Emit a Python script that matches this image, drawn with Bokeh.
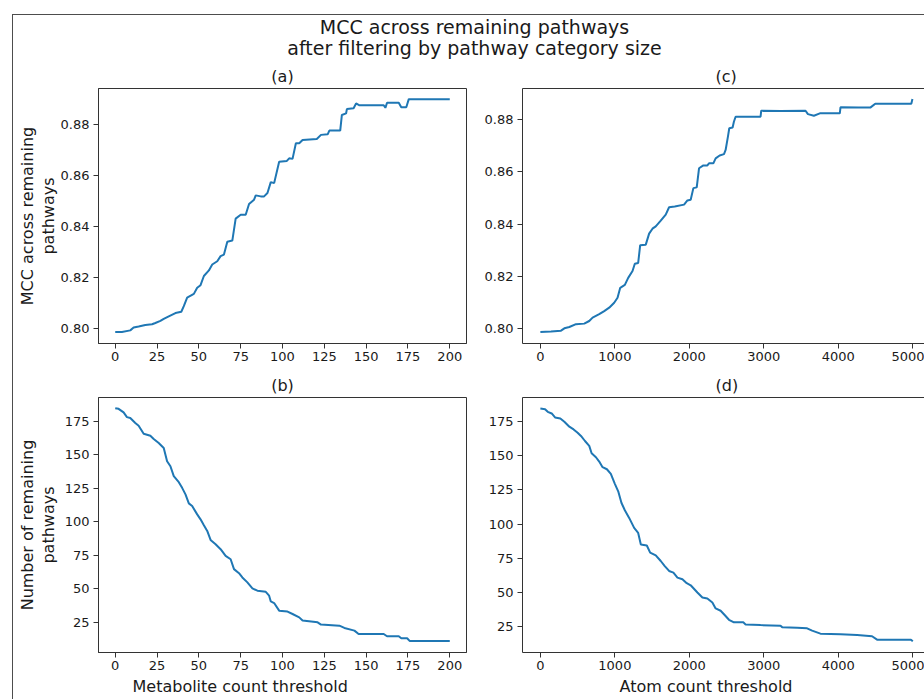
import math
from bokeh.plotting import figure
from bokeh.models import Range1d, FixedTicker, PrintfTickFormatter, Label, LinearAxis, Title
from bokeh.layouts import column, row
from bokeh.embed import file_html
from bokeh.resources import INLINE

FONT = "DejaVu Sans"
LINE_COLOR = "#1f77b4"
SPINE = "#333333"
TXT = "#1a1a1a"

# ---------------- data ----------------
suptitle_lines = ["MCC across remaining pathways", "after filtering by pathway category size"]
panel_titles = ["(a)", "(b)", "(c)", "(d)"]
ylabel_top = "MCC across remaining\npathways"
ylabel_bottom = "Number of remaining\npathways"
xlabel_left = "Metabolite count threshold"
xlabel_right = "Atom count threshold"

metab_ticks = [0, 25, 50, 75, 100, 125, 150, 175, 200]
atom_ticks = [0, 1000, 2000, 3000, 4000, 5000]
mcc_ticks = [0.80, 0.82, 0.84, 0.86, 0.88]
count_ticks = [25, 50, 75, 100, 125, 150, 175]

# (a) MCC vs metabolite count threshold
a_x = [0, 4, 9, 11, 14, 18, 22, 24, 27, 29, 32, 36, 39.5, 41, 43, 47, 49, 51, 53, 56,
       58, 61, 63, 65, 67, 70, 72, 75, 78, 80, 83, 84, 87, 89, 91, 93, 95, 98, 102.6, 104,
       106, 108, 110, 112, 120.5, 123, 127, 128, 134.5, 135.5, 138, 138.5, 142.5, 144, 146,
       160.5, 161.5, 162.5, 169.5, 171, 174, 175.5, 200]
a_y = [0.7988, 0.7988, 0.7994, 0.8005, 0.8009, 0.8015, 0.8018, 0.8023, 0.8031, 0.8039,
       0.8049, 0.8062, 0.8067, 0.8089, 0.8122, 0.8137, 0.8161, 0.8171, 0.8207, 0.8229,
       0.8252, 0.8265, 0.8285, 0.8291, 0.8341, 0.8346, 0.8432, 0.8447, 0.8447, 0.8489,
       0.8506, 0.8523, 0.8519, 0.8519, 0.8532, 0.8575, 0.8571, 0.8655, 0.8658, 0.8668,
       0.8666, 0.8727, 0.8727, 0.8740, 0.8744, 0.8760, 0.8762, 0.8777, 0.8777, 0.8838,
       0.8844, 0.8861, 0.8864, 0.8883, 0.8876, 0.8876, 0.8866, 0.8886, 0.8886, 0.8868,
       0.8868, 0.8900, 0.8900]

# (b) remaining pathways vs metabolite count threshold
b_x = [0, 2, 5, 7, 9, 12, 14, 17, 21, 23, 26, 29, 31, 33, 35, 38, 40, 42, 44, 46, 49, 51,
       53, 55, 57, 60, 63, 66, 69, 71, 74, 76, 79, 82, 85, 90, 92, 93, 95, 98, 103, 106,
       110, 112, 121, 123, 134, 137, 143, 145.5, 160.5, 162.5, 169.5, 171, 174.5, 176, 200]
b_y = [184.9, 184.4, 181.7, 178.2, 177.5, 173.8, 171.8, 165.8, 164.3, 161.9, 158.9, 155.2,
       145.3, 141.5, 134.1, 129.6, 125.4, 120.5, 113.8, 111.8, 105.6, 101.9, 97.4, 93.2,
       86.5, 83.3, 79.6, 74.6, 72.1, 64.7, 61.7, 58.5, 54.8, 50.3, 48.6, 47.8, 44.9, 40.6,
       39.4, 33.7, 33.0, 31.2, 28.7, 26.3, 25.0, 23.3, 22.5, 20.8, 18.8, 16.3, 16.3, 14.6,
       14.6, 13.1, 13.1, 11.1, 11.1]

# (c) MCC vs atom count threshold
c_x = [0, 143, 277, 322, 389, 478, 589, 656, 701, 790, 857, 924, 991, 1036, 1072, 1134,
       1179, 1237, 1268, 1313, 1340, 1415, 1460, 1505, 1549, 1616, 1683, 1728, 1804, 1929,
       1974, 2018, 2054, 2099, 2130, 2188, 2242, 2264, 2322, 2353, 2407, 2465, 2487, 2518,
       2536, 2581, 2598, 2621, 2956, 2965, 3224, 3560, 3592, 3672, 3752, 4020, 4029, 4275,
       4429, 4496, 4980, 4995]
c_y = [0.7988, 0.7990, 0.7993, 0.8002, 0.8007, 0.8018, 0.8020, 0.8030, 0.8043, 0.8056,
       0.8068, 0.8081, 0.8100, 0.8119, 0.8157, 0.8168, 0.8195, 0.8221, 0.8249, 0.8252,
       0.8320, 0.8322, 0.8364, 0.8383, 0.8392, 0.8414, 0.8437, 0.8465, 0.8468, 0.8475,
       0.8491, 0.8494, 0.8538, 0.8541, 0.8614, 0.8625, 0.8625, 0.8633, 0.8633, 0.8652,
       0.8663, 0.8668, 0.8684, 0.8735, 0.8767, 0.8770, 0.8792, 0.8811, 0.8811, 0.8834,
       0.8833, 0.8834, 0.8821, 0.8815, 0.8824, 0.8824, 0.8847, 0.8846, 0.8846, 0.8861,
       0.8861, 0.8879]

# (d) remaining pathways vs atom count threshold
d_x = [0, 63, 99, 152, 197, 268, 322, 389, 446, 500, 545, 599, 656, 688, 746, 790, 835,
       893, 946, 1000, 1045, 1089, 1134, 1192, 1259, 1313, 1349, 1429, 1474, 1549, 1616,
       1670, 1728, 1786, 1840, 1907, 1965, 2018, 2108, 2175, 2242, 2309, 2353, 2420, 2474,
       2532, 2599, 2724, 2755, 2956, 3224, 3246, 3447, 3581, 3648, 3760, 4029, 4252, 4453,
       4520, 4975, 5000]
d_y = [184.7, 184.2, 182.3, 181.1, 178.2, 177.4, 175.0, 171.4, 169.4, 167.0, 164.6, 160.9,
       157.3, 151.9, 149.0, 145.8, 141.7, 140.2, 136.8, 129.5, 124.0, 115.4, 110.1, 104.5,
       97.2, 93.5, 85.0, 84.3, 79.0, 77.0, 72.9, 69.2, 65.6, 64.4, 60.7, 59.5, 56.6, 55.1,
       49.8, 46.1, 45.4, 42.5, 38.1, 36.4, 33.3, 29.8, 27.9, 27.9, 26.4, 25.9, 25.4, 24.4,
       24.0, 23.5, 21.8, 19.6, 19.1, 18.6, 17.7, 15.2, 15.2, 14.0]


def style_axes(p, xticks, yticks, yfmt=None, ylabel=None, label_standoff=0):
    xa = p.below[0]
    ya = p.left[0]
    for ax in (xa, ya):
        ax.major_tick_out = 5
        ax.major_tick_in = 0
        ax.minor_tick_out = 0
        ax.minor_tick_in = 0
        ax.major_tick_line_color = SPINE
        ax.major_tick_line_width = 1
        ax.axis_line_color = SPINE
        ax.axis_line_width = 1
        ax.major_label_text_font = FONT
        ax.major_label_text_font_size = "13px"
        ax.major_label_text_color = TXT
    xa.ticker = FixedTicker(ticks=xticks)
    ya.ticker = FixedTicker(ticks=yticks)
    xa.major_label_standoff = 3
    ya.major_label_standoff = 4
    if yfmt:
        ya.formatter = PrintfTickFormatter(format=yfmt)
    if ylabel:
        ya.axis_label = ylabel
        ya.axis_label_text_font = FONT
        ya.axis_label_text_font_size = "16px"
        ya.axis_label_text_font_style = "normal"
        ya.axis_label_text_color = TXT
        ya.axis_label_text_line_height = 1.1
        ya.axis_label_standoff = label_standoff
    p.xgrid.visible = False
    p.ygrid.visible = False


def make_panel(w, h, bl, br, bt, bb, xr, yr, full_box):
    p = figure(width=w, height=h, x_range=xr, y_range=yr,
               min_border_left=bl, min_border_right=br,
               min_border_top=bt, min_border_bottom=bb,
               toolbar_location=None, output_backend="svg", title=None)
    p.background_fill_color = "white"
    p.border_fill_color = "white"
    if full_box:
        p.outline_line_color = SPINE
        p.outline_line_width = 1
        p.outline_line_alpha = 1.0
    else:
        p.outline_line_color = None
        top = LinearAxis(ticker=FixedTicker(ticks=[]), major_label_text_font_size="0px",
                         major_tick_out=0, major_tick_in=0, minor_tick_out=0, minor_tick_in=0,
                         major_label_standoff=0, axis_line_color=SPINE, axis_line_width=1)
        p.add_layout(top, "above")
    return p


def add_title(p, text, side, align="center", offset=0, standoff=6, size="16px"):
    t = Title(text=text, align=align, offset=offset, standoff=standoff,
              text_font=FONT, text_font_size=size, text_font_style="normal",
              text_color=TXT)
    p.add_layout(t, side)


# ---------------- header with suptitle ----------------
header = figure(width=911, height=46, x_range=Range1d(0, 911), y_range=Range1d(0, 46),
                min_border=0, toolbar_location=None, output_backend="svg", title=None,
                x_axis_location=None, y_axis_location=None)
header.outline_line_color = None
header.xgrid.visible = False
header.ygrid.visible = False
for txt, yy in zip(suptitle_lines, [34.3, 13.9]):
    header.add_layout(Label(x=461, y=yy, x_units="screen", y_units="screen", text=txt,
                            text_font=FONT, text_font_size="19px", text_color=TXT,
                            text_align="center", text_baseline="middle"))

# ---------------- panels ----------------
pa = make_panel(461, 309, 85, 8, 26, 27, Range1d(-10, 210), Range1d(0.79426, 0.89417), True)
pa.line(a_x, a_y, line_color=LINE_COLOR, line_width=2)
style_axes(pa, metab_ticks, mcc_ticks, "%.2f", ylabel_top, label_standoff=0)
add_title(pa, panel_titles[0], "above")

pc = make_panel(450, 309, 48, 0, 26, 27, Range1d(-240, 5157), Range1d(0.7944, 0.8919), False)
pc.line(c_x, c_y, line_color=LINE_COLOR, line_width=2)
style_axes(pc, atom_ticks, mcc_ticks, "%.2f")
add_title(pc, panel_titles[2], "above", align="left", offset=193)

pb = make_panel(461, 329, 85, 8, 26, 47, Range1d(-10, 210), Range1d(2.47, 192.85), True)
pb.line(b_x, b_y, line_color=LINE_COLOR, line_width=2)
style_axes(pb, metab_ticks, count_ticks, None, ylabel_bottom, label_standoff=4)
add_title(pb, panel_titles[1], "above")
add_title(pb, xlabel_left, "below", align="left", offset=34, standoff=4)

pd_ = make_panel(450, 329, 48, 0, 26, 47, Range1d(-240, 5157), Range1d(5.8, 192.8), False)
pd_.line(d_x, d_y, line_color=LINE_COLOR, line_width=2)
style_axes(pd_, atom_ticks, count_ticks)
add_title(pd_, panel_titles[3], "above", align="left", offset=193)
add_title(pd_, xlabel_right, "below", align="left", offset=97, standoff=4)

layout = column(header, row(pa, pc), row(pb, pd_),
                margin=(14, 0, 0, 12),
                styles={"border-top": "1px solid #4d4d4d", "border-left": "1px solid #4d4d4d"})

open("out.html", "w").write(file_html(layout, INLINE))
